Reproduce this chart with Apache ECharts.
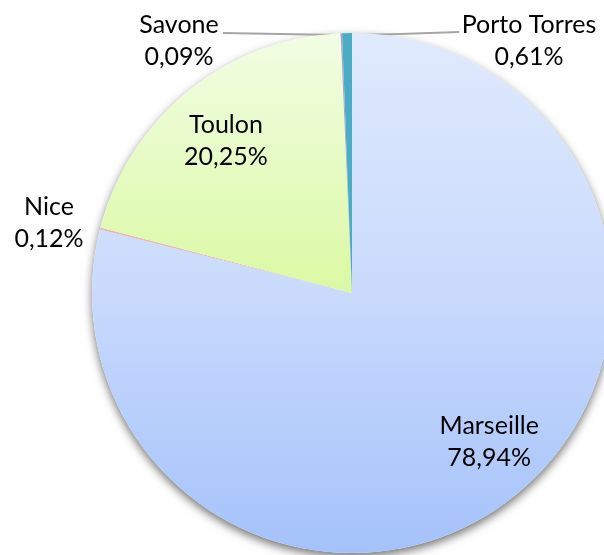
<!DOCTYPE html>
<html>
<head>
<meta charset="utf-8">
<script src="https://cdn.jsdelivr.net/npm/echarts@6/dist/echarts.min.js"></script>
<style>
html,body{margin:0;padding:0;background:#fff;}
#chart{width:604px;height:555px;}
</style>
</head>
<body>
<div id="chart"></div>
<script>
const categories = ['Marseille', 'Nice', 'Toulon', 'Savone', 'Porto Torres'];
const shares = [78.94, 0.12, 20.25, 0.09, 0.61];

const CX = 352, CY = 293, R = 260;
const FONT = 'Lato';
const FS = 25;
const LH = 32;

const fills = [
  {type:'linear', x:0, y:0, x2:0, y2:1, colorStops:[{offset:0,color:'#e0eafd'},{offset:0.5,color:'#c9dafc'},{offset:1,color:'#a4c2fa'}]},
  '#e6b9b8',
  {type:'linear', x:0, y:0, x2:0, y2:1, colorStops:[{offset:0,color:'#f2fde4'},{offset:1,color:'#daf9a3'}]},
  '#b3a2c7',
  '#4bacc6'
];

function fmt(p){ return p.name + '\n' + shares[p.dataIndex].toFixed(2).replace('.', ',') + '%'; }

const outsideIdx = {1:true, 3:true, 4:true};
const insideIdx = {0:true, 2:true};

const mainData = categories.map((c,i)=>({
  name:c, value:shares[i],
  itemStyle:{color:fills[i]},
  label:{show:!!outsideIdx[i]},
  labelLine:{show:(i===3||i===4)}
}));
const overlayData = categories.map((c,i)=>({
  name:c, value:shares[i],
  label:{show:!!insideIdx[i]}
}));

const chart = echarts.init(document.getElementById('chart'), null, {renderer:'canvas'});
chart.setOption({
  animation:false,
  series:[
    {
      type:'pie', z:1, silent:true, center:[CX,CY], radius:R,
      data:[{value:1, name:''}],
      itemStyle:{color:'#ffffff', shadowBlur:10, shadowOffsetY:4, shadowColor:'rgba(0,0,0,0.55)'},
      label:{show:false}, labelLine:{show:false}
    },
    {
      type:'pie', z:2, silent:true, center:[CX,CY], radius:R,
      startAngle:90, clockwise:true, avoidLabelOverlap:false,
      itemStyle:{borderWidth:0},
      label:{position:'outside', formatter:fmt, fontFamily:FONT, fontSize:FS, lineHeight:LH, color:'#000', align:'center'},
      labelLine:{lineStyle:{color:'#a6a6a6', width:2}},
      labelLayout:function(p){
        if(p.dataIndex===1){ return {x:49, y:223, align:'center', verticalAlign:'middle'}; }
        if(p.dataIndex===3){ return {x:179, y:41, align:'center', verticalAlign:'middle', labelLinePoints:[[342,35],[280,34],[223,33]]}; }
        if(p.dataIndex===4){ return {x:529, y:41, align:'center', verticalAlign:'middle', labelLinePoints:[[348,35],[400,34],[459,32]]}; }
        return {};
      },
      data:mainData
    },
    {
      type:'pie', z:3, silent:true, center:[CX,CY], radius:[135,R],
      startAngle:90, clockwise:true, avoidLabelOverlap:false,
      itemStyle:{color:'rgba(0,0,0,0)', borderWidth:0},
      label:{position:'inside', formatter:fmt, fontFamily:FONT, fontSize:FS, lineHeight:LH, color:'#000', align:'center'},
      labelLine:{show:false},
      labelLayout:function(p){
        if(p.dataIndex===0){ return {dx:14, dy:-9}; }
        if(p.dataIndex===2){ return {dy:4}; }
        return {};
      },
      data:overlayData
    }
  ]
});
</script>
</body>
</html>
